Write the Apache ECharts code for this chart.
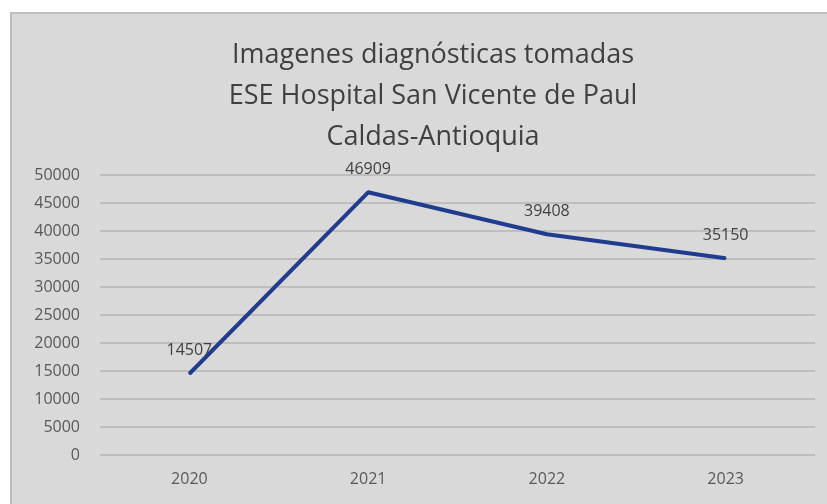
<!DOCTYPE html>
<html>
<head>
<meta charset="utf-8">
<script src="https://cdn.jsdelivr.net/npm/echarts@6/dist/echarts.min.js"></script>
<style>
  html, body { margin: 0; padding: 0; background: #fff; }
  #frame {
    position: absolute; left: 10px; top: 12px; width: 817px; height: 492px;
    background: #d9d9d9; border-left: 2px solid #bdbdbd; border-top: 2px solid #bdbdbd;
    box-sizing: border-box;
  }
  #chart { position: absolute; left: 0; top: 0; width: 827px; height: 504px; }
</style>
</head>
<body>
<div id="frame"></div>
<div id="chart"></div>
<script>
const years = ['2020', '2021', '2022', '2023']
const images = [14507, 46909, 39408, 35150]
const titleLines = [
  'Imagenes diagnósticas tomadas',
  'ESE Hospital San Vicente de Paul',
  'Caldas-Antioquia'
]

const chart = echarts.init(document.getElementById('chart'), null, { renderer: 'canvas' })

chart.setOption({
  backgroundColor: 'transparent',
  animation: false,
  title: {
    text: titleLines.join('\n'),
    left: 428,
    textAlign: 'center',
    top: 30,
    textStyle: {
      fontFamily: 'Open Sans',
      fontWeight: 'normal',
      fontSize: 27,
      lineHeight: 41,
      color: '#404040'
    }
  },
  grid: { left: 100, right: 12, top: 175, bottom: 49 },
  xAxis: {
    type: 'category',
    data: years,
    boundaryGap: true,
    axisLine: { show: false },
    axisTick: { show: false },
    axisLabel: { color: '#595959', fontSize: 16, fontFamily: 'Open Sans', margin: 16 }
  },
  yAxis: {
    type: 'value',
    min: 0,
    max: 50000,
    interval: 5000,
    axisLine: { show: false },
    axisTick: { show: false },
    axisLabel: {
      color: '#595959', fontSize: 16, fontFamily: 'Open Sans', margin: 20,
      formatter: v => String(v)
    },
    splitLine: { lineStyle: { color: '#b5b5b5', width: 1.5 } }
  },
  series: [{
    type: 'line',
    data: images,
    symbol: 'circle',
    symbolSize: 2,
    showSymbol: true,
    itemStyle: { color: '#203c8e' },
    lineStyle: { color: '#203c8e', width: 4 },
    label: {
      show: true,
      position: 'top',
      distance: 14,
      color: '#404040',
      fontSize: 16,
      fontFamily: 'Open Sans'
    }
  }]
})
</script>
</body>
</html>
